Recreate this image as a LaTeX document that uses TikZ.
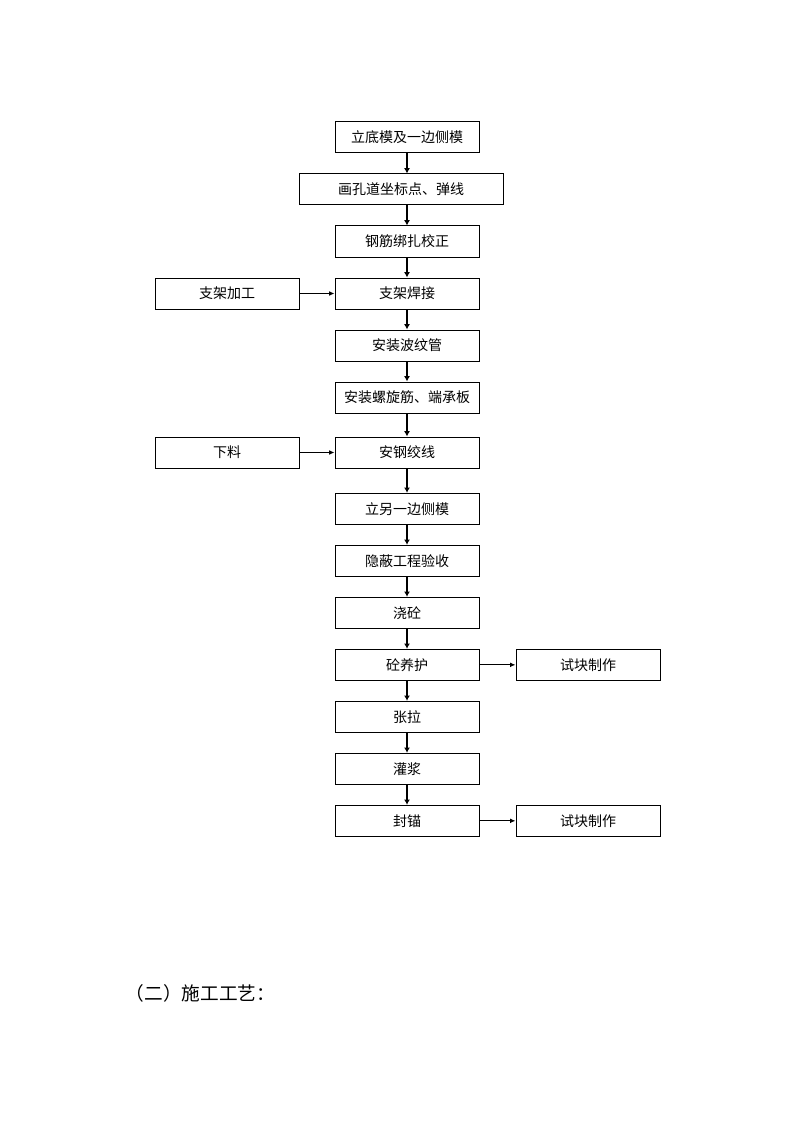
\documentclass[tikz,border=0pt]{standalone}
\usepackage{fontspec}
\setmainfont{Noto Sans CJK SC}
\usetikzlibrary{positioning,arrows.meta}

\begin{document}
\begin{tikzpicture}[
  x=0.75pt, y=-0.75pt,
  node distance=15pt,
  every node/.style={font=\fontsize{10.5}{12}\selectfont},
  stepbox/.style={draw,line width=0.75pt,minimum width=108pt,minimum height=23.25pt,inner sep=0pt},
  widebox/.style={stepbox,minimum width=153pt},
  main-arrow/.style={draw,line width=1.5pt,-{Latex[length=4pt,width=4.5pt]}},
  side-arrow/.style={draw,line width=0.75pt,-{Latex[length=4pt,width=3.5pt]}},
  ]

  \useasboundingbox (0,0) rectangle (794,1123);

  \node [stepbox] (step1-box) at (407,137.5) {立底模及一边侧模};
  \node [widebox,below=of step1-box,xshift=-4.5pt] (step2-box) {画孔道坐标点、弹线};
  \node [stepbox,below=of step2-box,xshift=4.5pt] (step3-box) {钢筋绑扎校正};
  \node [stepbox,below=of step3-box] (step4-box) {支架焊接};
  \node [stepbox,below=of step4-box] (step5-box) {安装波纹管};
  \node [stepbox,below=of step5-box] (step6-box) {安装螺旋筋、端承板};
  \node [stepbox,below=17.25pt of step6-box] (step7-box) {安钢绞线};
  \node [stepbox,below=18.25pt of step7-box] (step8-box) {立另一边侧模};
  \node [stepbox,below=of step8-box] (step9-box) {隐蔽工程验收};
  \node [stepbox,below=of step9-box] (step10-box) {浇砼};
  \node [stepbox,below=of step10-box] (step11-box) {砼养护};
  \node [stepbox,below=of step11-box] (step12-box) {张拉};
  \node [stepbox,below=of step12-box] (step13-box) {灌浆};
  \node [stepbox,below=of step13-box] (step14-box) {封锚};

  % side inputs and outputs
  \node [stepbox,left=26.25pt of step4-box] (frame-box) {支架加工};
  \node [stepbox,left=26.25pt of step7-box] (cut-box) {下料};
  \node [stepbox,right=27pt of step11-box] (sample1-box) {试块制作};
  \node [stepbox,right=27pt of step14-box] (sample2-box) {试块制作};

  \foreach \i [evaluate=\i as \j using int(\i+1)] in {1,...,13}
    \draw [main-arrow] (step\i-box.south -| step1-box) -- (step\j-box.north -| step1-box);

  \draw [side-arrow] (frame-box) -- (step4-box);
  \draw [side-arrow] (cut-box) -- (step7-box);
  \draw [side-arrow] (step11-box) -- (sample1-box);
  \draw [side-arrow] (step14-box) -- (sample2-box);

  \node [anchor=west,font=\fontsize{14}{16}\selectfont] (title-text) at (121,993) {（二）施工工艺：};

\end{tikzpicture}
\end{document}
